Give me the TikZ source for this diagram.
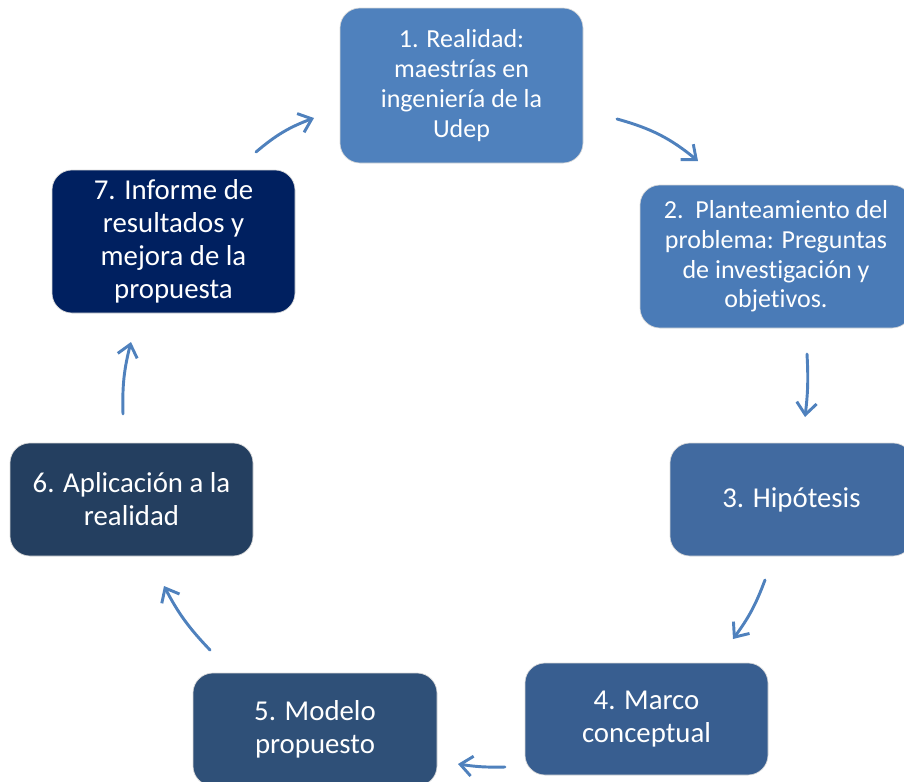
\documentclass[tikz,border=0pt]{standalone}
\usepackage{fontspec}
\setmainfont{Carlito}[Ligatures={NoCommon,NoContextual,NoRare}]
\usetikzlibrary{arrows.meta}
\definecolor{cA}{HTML}{4F81BD}
\definecolor{cB}{HTML}{4A7BB7}
\definecolor{cC}{HTML}{416AA0}
\definecolor{cD}{HTML}{385E90}
\definecolor{cE}{HTML}{2F5078}
\definecolor{cF}{HTML}{243F60}
\definecolor{cG}{HTML}{002060}
\definecolor{arrowc}{HTML}{4F81BD}
\newcommand{\nolig}{\kern0pt\relax}
\tikzset{
  box/.style={rounded corners=15pt, draw=white!85!black, line width=0.5pt, text=white, align=center, inner sep=0pt},
  bigtxt/.style={font=\fontsize{21.6}{24.8}\selectfont},
  smalltxt/.style={font=\fontsize{19.5}{22.3}\selectfont},
  arr/.style={draw=arrowc, line width=2.2pt, line cap=round, -{Straight Barb[length=9pt,width=15pt,line width=2.2pt]}},
}
\begin{document}
\begin{tikzpicture}[x=0.75pt,y=-0.75pt]
\useasboundingbox (0,0) rectangle (904,782);
\clip (0,0) rectangle (904,782);
\node[box, smalltxt, fill=cA, minimum width=243*0.75pt, minimum height=155*0.75pt] (n1) at (461.5,85.5) {1. Realidad:\\maestrías en\\ingeniería de la\\Udep};
\node[box, smalltxt, fill=cB, minimum width=272*0.75pt, minimum height=143*0.75pt] (n2) at (776,256.5) {2.\ \ Planteamiento del\\problema: Preguntas\\de invest\nolig igación y\\objet\nolig ivos.};
\node[box, bigtxt, fill=cC, minimum width=243*0.75pt, minimum height=113*0.75pt] (n3) at (791.5,499.5) {3. Hipótesis};
\node[box, bigtxt, fill=cD, minimum width=243*0.75pt, minimum height=112*0.75pt] (n4) at (646.5,719) {4. Marco\\conceptual};
\node[box, bigtxt, fill=cE, minimum width=244*0.75pt, minimum height=113*0.75pt] (n5) at (315,729.5) {5. Modelo\\propuesto};
\node[box, bigtxt, fill=cF, minimum width=243*0.75pt, minimum height=113*0.75pt] (n6) at (131.5,499.5) {6. Aplicación a la\\realidad};
\node[box, bigtxt, fill=cG, minimum width=243*0.75pt, minimum height=143*0.75pt] (n7) at (173.5,241.5) {7. Informe de\\resultados y\\mejora de la\\propuesta};

\coordinate (a1s) at (617,119); \coordinate (a1e) at (698,161);
\coordinate (a2s) at (807,354); \coordinate (a2e) at (805,417);
\coordinate (a3s) at (765,580); \coordinate (a3e) at (733,639);
\coordinate (a4s) at (505,767); \coordinate (a4e) at (458,764);
\coordinate (a5s) at (210,650); \coordinate (a5e) at (164,586);
\coordinate (a6s) at (123,414); \coordinate (a6e) at (131,342);
\coordinate (a7s) at (256,152); \coordinate (a7e) at (314,118);

\draw[arr] (a1s) to[bend left=12] (a1e);
\draw[arr] (a2s) to[bend left=5] (a2e);
\draw[arr] (a3s) to[bend left=8] (a3e);
\draw[arr] (a4s) to[bend left=5] (a4e);
\draw[arr] (a5s) to[bend left=8] (a5e);
\draw[arr] (a6s) to[bend left=8] (a6e);
\draw[arr] (a7s) to[bend left=10] (a7e);
\end{tikzpicture}
\end{document}
